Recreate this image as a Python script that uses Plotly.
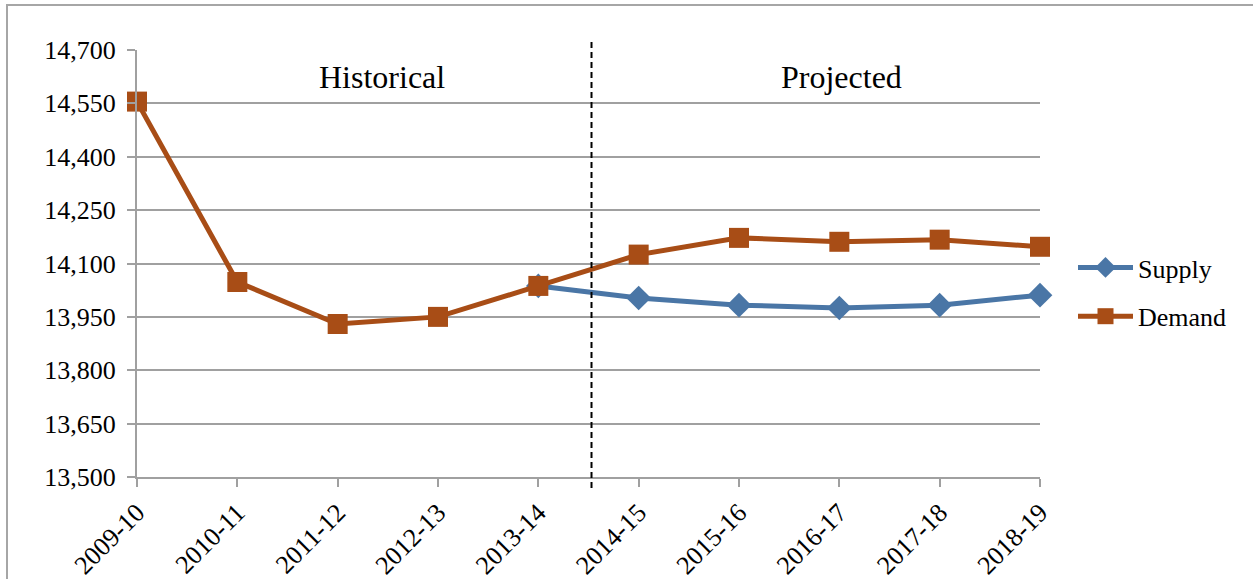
import plotly.graph_objects as go

years = ["2009-10", "2010-11", "2011-12", "2012-13", "2013-14",
         "2014-15", "2015-16", "2016-17", "2017-18", "2018-19"]
demand = [14555, 14048, 13930, 13950, 14037, 14125, 14172, 14161, 14167, 14147]
supply = [None, None, None, None, 14037, 14003, 13983, 13975, 13983, 14011]

FONT = "Liberation Serif"
BLUE = "#4A76A6"
ORANGE = "#A84D16"
GRID = "#A0A0A0"

fig = go.Figure()
fig.add_trace(go.Scatter(
    x=years, y=supply, name="Supply", mode="lines+markers",
    line=dict(color=BLUE, width=5),
    marker=dict(symbol="diamond", size=19, color=BLUE),
    legendgroup="s", cliponaxis=False, connectgaps=False,
))
fig.add_trace(go.Scatter(
    x=years, y=demand, name="Demand", mode="lines+markers",
    line=dict(color=ORANGE, width=5),
    marker=dict(symbol="square", size=20, color=ORANGE),
    legendgroup="d", cliponaxis=False,
))

W, H = 1253, 579
PL, PR, PT, PB = 137, 1040, 50, 477      # plot area in pixels
L, T = PL, PT
pw, ph = PR - PL, PB - PT
R, B = W - L - pw, H - T - ph

def px(x):
    return (x - PL) / pw

def py(y):
    return (PB - y) / ph

# outer chart border
fig.add_shape(type="rect", xref="paper", yref="paper",
              x0=px(7), x1=px(1262), y0=py(5), y1=py(592),
              line=dict(color="#A6A6A6", width=2), layer="below")
# dashed divider
fig.add_shape(type="line", xref="x", yref="paper",
              x0=4.53, x1=4.53, y0=py(42), y1=py(492),
              line=dict(color="black", width=2, dash="6px,4px"))

fig.add_annotation(x=2.44, y=py(77), xref="x", yref="paper",
                   xanchor="center", yanchor="middle",
                   text="Historical", showarrow=False,
                   font=dict(family=FONT, size=32, color="black"))
fig.add_annotation(x=7.02, y=py(77), xref="x", yref="paper",
                   xanchor="center", yanchor="middle",
                   text="Projected", showarrow=False,
                   font=dict(family=FONT, size=32, color="black"))

fig.update_layout(
    width=W, height=H,
    margin=dict(l=L, r=R, t=T, b=B, pad=0, autoexpand=False),
    paper_bgcolor="white", plot_bgcolor="white",
    font=dict(family=FONT, size=26, color="black"),
    showlegend=True,
    legend=dict(x=px(1073), y=py(292), xanchor="left", yanchor="middle",
                font=dict(family=FONT, size=26, color="black"),
                itemwidth=55, tracegroupgap=12,
                bgcolor="rgba(0,0,0,0)", borderwidth=0),
    xaxis=dict(type="category", range=[0, 9], showgrid=False,
               showline=True, linecolor=GRID, linewidth=2,
               ticks="outside", ticklen=8, tickcolor=GRID, tickwidth=2,
               tickangle=-45, tickfont=dict(family=FONT, size=26),
               automargin=False, fixedrange=True),
    yaxis=dict(range=[13500, 14700], dtick=150, tick0=13500,
               tickformat=",", showgrid=True, gridcolor=GRID, gridwidth=2,
               showline=True, linecolor=GRID, linewidth=2,
               ticks="outside", ticklen=8, tickcolor=GRID, tickwidth=2,
               ticklabelstandoff=6,
               tickfont=dict(family=FONT, size=26), zeroline=False,
               automargin=False, fixedrange=True),
)

fig.write_html("out.html",
               config={"displayModeBar": False},
               post_script="document.body.style.margin='0';"
                           "document.body.style.overflow='hidden';")
